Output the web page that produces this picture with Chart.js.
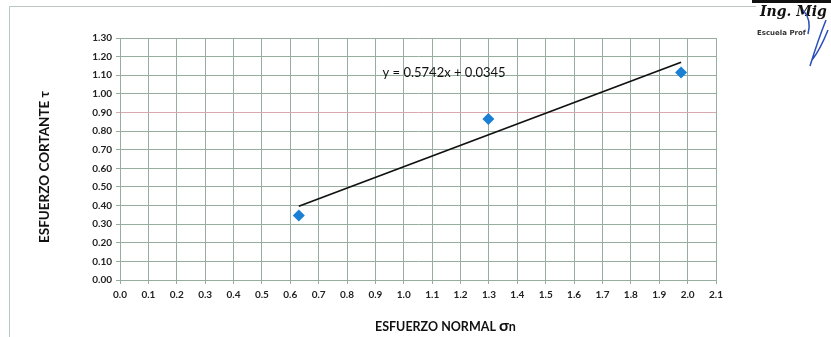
<!DOCTYPE html>
<html>
<head>
<meta charset="utf-8">
<script src="https://cdn.jsdelivr.net/npm/chart.js@4.4.1/dist/chart.umd.min.js"></script>
<style>
  html, body { margin: 0; padding: 0; background: #ffffff; }
  #wrap { position: relative; width: 831px; height: 337px; }
</style>
</head>
<body>
<div id="wrap"><canvas id="c" width="831" height="337"></canvas></div>
<script>
// Measured normal / shear stress pairs (kg/cm²)
const normalStress = [0.63, 1.298, 1.977];
const shearStress = [0.346, 0.865, 1.115];

// Linear fit shown on the chart: y = 0.5742x + 0.0345
const trendSlope = 0.5742;
const trendIntercept = 0.0345;
const trendLabel = 'y = 0.5742x + 0.0345';

const xTickValues = [0.0, 0.1, 0.2, 0.3, 0.4, 0.5, 0.6, 0.7, 0.8, 0.9, 1.0,
                     1.1, 1.2, 1.3, 1.4, 1.5, 1.6, 1.7, 1.8, 1.9, 2.0, 2.1];
const yTickValues = [0.0, 0.1, 0.2, 0.3, 0.4, 0.5, 0.6, 0.7, 0.8, 0.9, 1.0,
                     1.1, 1.2, 1.3];

const xTitle = 'ESFUERZO NORMAL ';
const xTitleSymbol = 'σ';
const xTitleSub = 'n';
const yTitle = 'ESFUERZO CORTANTE τ';

const points = normalStress.map((x, i) => ({ x: x, y: shearStress[i] }));
const xFirst = Math.min(...normalStress);
const xLast = Math.max(...normalStress);
const trendPoints = [
  { x: xFirst, y: trendSlope * xFirst + trendIntercept },
  { x: xLast, y: trendSlope * xLast + trendIntercept }
];

const gridColor = '#97ad9f';

// Frame, axis titles, fit equation and the stamp in the corner
const decorations = {
  id: 'decorations',
  beforeDraw(chart) {
    const ctx = chart.ctx;
    ctx.save();
    ctx.fillStyle = '#ffffff';
    ctx.fillRect(0, 0, chart.width, chart.height);
    ctx.strokeStyle = '#b9c6bd';
    ctx.lineWidth = 1;
    ctx.beginPath();
    ctx.moveTo(9.5, 340);
    ctx.lineTo(9.5, 6.5);
    ctx.lineTo(756, 6.5);
    ctx.stroke();
    ctx.restore();
  },
  afterDraw(chart) {
    const ctx = chart.ctx;
    const xs = chart.scales.x, ys = chart.scales.y;
    ctx.save();
    ctx.fillStyle = '#111111';
    ctx.textBaseline = 'middle';

    // x-axis title with a larger sigma
    ctx.textAlign = 'left';
    ctx.font = 'bold 12.5px Lato';
    let tx = 375;
    ctx.fillText(xTitle, tx, 327);
    tx += ctx.measureText(xTitle).width;
    ctx.font = 'bold 16px Lato';
    ctx.fillText(xTitleSymbol, tx, 326);
    tx += ctx.measureText(xTitleSymbol).width;
    ctx.font = 'bold 12.5px Lato';
    ctx.fillText(xTitleSub, tx, 327);

    ctx.save();
    ctx.textAlign = 'center';
    ctx.font = 'bold 13.5px Lato';
    ctx.translate(45, 167);
    ctx.rotate(-Math.PI / 2);
    ctx.fillText(yTitle, 0, 0);
    ctx.restore();

    ctx.font = '13px Lato';
    ctx.textAlign = 'left';
    ctx.fillText(trendLabel, xs.getPixelForValue(0.925), ys.getPixelForValue(1.115));

    // stamp
    ctx.fillStyle = '#111111';
    ctx.fillRect(752, 0, 79, 3);
    ctx.font = 'italic bold 14px "DejaVu Serif"';
    ctx.fillText('Ing. Mig', 760, 12);
    ctx.font = 'bold 7px "DejaVu Sans"';
    ctx.fillStyle = '#333333';
    ctx.fillText('Escuela Prof', 757, 33);
    ctx.strokeStyle = '#2a4fb8';
    ctx.lineWidth = 1.5;
    ctx.beginPath();
    ctx.moveTo(810, 66);
    ctx.quadraticCurveTo(818, 40, 826, 20);
    ctx.moveTo(803, 10);
    ctx.quadraticCurveTo(812, 20, 808, 34);
    ctx.moveTo(828, 30);
    ctx.quadraticCurveTo(820, 50, 812, 60);
    ctx.stroke();
    ctx.restore();
  }
};

new Chart(document.getElementById('c'), {
  type: 'scatter',
  data: {
    datasets: [
      {
        label: 'Ensayo',
        data: points,
        pointStyle: 'rectRot',
        pointRadius: 6,
        backgroundColor: '#1b7fd3',
        borderColor: '#1b7fd3',
        borderWidth: 0,
        order: 2
      },
      {
        type: 'line',
        label: 'Lineal',
        data: trendPoints,
        borderColor: '#111111',
        borderWidth: 1.8,
        pointRadius: 0,
        fill: false,
        order: 1
      }
    ]
  },
  options: {
    responsive: false,
    animation: false,
    layout: { padding: { left: 0, top: 38, right: 115, bottom: 0 } },
    plugins: { legend: { display: false }, tooltip: { enabled: false } },
    scales: {
      x: {
        type: 'linear',
        min: 0,
        max: 2.1,
        afterFit(scale) { scale.height = 57; },
        afterBuildTicks(scale) { scale.ticks = xTickValues.map(v => ({ value: v })); },
        grid: { color: gridColor, lineWidth: 1, tickLength: 4, drawTicks: true },
        border: { color: gridColor, width: 1 },
        ticks: {
          padding: 5,
          maxRotation: 0,
          autoSkip: false,
          color: '#222222',
          font: { family: 'Lato', size: 10, weight: 'bold' },
          callback: v => Number(v).toFixed(1)
        }
      },
      y: {
        type: 'linear',
        min: 0,
        max: 1.3,
        afterFit(scale) { scale.width = 120; },
        afterBuildTicks(scale) { scale.ticks = yTickValues.map(v => ({ value: v })); },
        grid: {
          color: ctx => (ctx.tick && Math.abs(ctx.tick.value - 0.9) < 1e-6) ? '#d8a9ae' : gridColor,
          lineWidth: 1,
          tickLength: 4
        },
        border: { color: gridColor, width: 1 },
        ticks: {
          padding: 4,
          autoSkip: false,
          color: '#222222',
          font: { family: 'Lato', size: 10, weight: 'bold' },
          callback: v => Number(v).toFixed(2)
        }
      }
    }
  },
  plugins: [decorations]
});
</script>
</body>
</html>
